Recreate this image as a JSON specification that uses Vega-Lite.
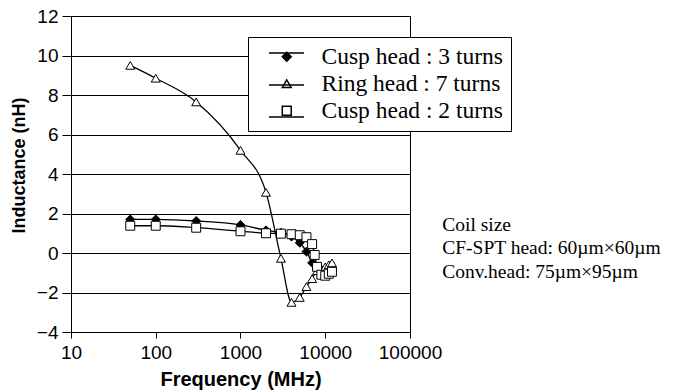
{
  "$schema": "https://vega.github.io/schema/vega-lite/v6.json",
  "autosize": {"type": "none"},
  "padding": {"left": 71, "top": 16, "right": 290, "bottom": 60},
  "width": 339,
  "height": 316,
  "background": "white",
  "config": {
    "view": {"stroke": "black", "strokeWidth": 1},
    "axis": {
      "labelFont": "Liberation Sans",
      "titleFont": "Liberation Sans",
      "labelColor": "black",
      "titleColor": "black",
      "domainColor": "black",
      "tickColor": "black",
      "gridColor": "black",
      "gridOpacity": 1
    },
    "legend": {
      "orient": "none", "legendX": 177, "legendY": 21,
      "padding": 8, "rowPadding": 2,
      "labelFont": "Liberation Serif", "labelFontSize": 23.5, "labelLimit": 400
    }
  },
  "data": {
    "values": [
      {"series": "Cusp head : 3 turns", "freq": 50, "ind": 1.7},
      {"series": "Cusp head : 3 turns", "freq": 100, "ind": 1.7},
      {"series": "Cusp head : 3 turns", "freq": 300, "ind": 1.62},
      {"series": "Cusp head : 3 turns", "freq": 1000, "ind": 1.42},
      {"series": "Cusp head : 3 turns", "freq": 2000, "ind": 1.15},
      {"series": "Cusp head : 3 turns", "freq": 3000, "ind": 1.03},
      {"series": "Cusp head : 3 turns", "freq": 4000, "ind": 0.83},
      {"series": "Cusp head : 3 turns", "freq": 5000, "ind": 0.52},
      {"series": "Cusp head : 3 turns", "freq": 6000, "ind": 0.07},
      {"series": "Cusp head : 3 turns", "freq": 7000, "ind": -0.5},
      {"series": "Cusp head : 3 turns", "freq": 8000, "ind": -0.85},
      {"series": "Cusp head : 3 turns", "freq": 9000, "ind": -1.0},
      {"series": "Cusp head : 3 turns", "freq": 10000, "ind": -0.95},
      {"series": "Cusp head : 3 turns", "freq": 11000, "ind": -0.85},
      {"series": "Cusp head : 3 turns", "freq": 12000, "ind": -0.75},
      {"series": "Ring head : 7 turns", "freq": 50, "ind": 9.5},
      {"series": "Ring head : 7 turns", "freq": 100, "ind": 8.85},
      {"series": "Ring head : 7 turns", "freq": 300, "ind": 7.65},
      {"series": "Ring head : 7 turns", "freq": 1000, "ind": 5.2},
      {"series": "Ring head : 7 turns", "freq": 2000, "ind": 3.07},
      {"series": "Ring head : 7 turns", "freq": 3000, "ind": -0.27},
      {"series": "Ring head : 7 turns", "freq": 4000, "ind": -2.5},
      {"series": "Ring head : 7 turns", "freq": 5000, "ind": -2.25},
      {"series": "Ring head : 7 turns", "freq": 6000, "ind": -1.7},
      {"series": "Ring head : 7 turns", "freq": 7000, "ind": -1.3},
      {"series": "Ring head : 7 turns", "freq": 8000, "ind": -0.9},
      {"series": "Ring head : 7 turns", "freq": 9000, "ind": -0.8},
      {"series": "Ring head : 7 turns", "freq": 10000, "ind": -0.7},
      {"series": "Ring head : 7 turns", "freq": 11000, "ind": -0.6},
      {"series": "Ring head : 7 turns", "freq": 12000, "ind": -0.5},
      {"series": "Cusp head : 2 turns", "freq": 50, "ind": 1.38},
      {"series": "Cusp head : 2 turns", "freq": 100, "ind": 1.38},
      {"series": "Cusp head : 2 turns", "freq": 300, "ind": 1.28},
      {"series": "Cusp head : 2 turns", "freq": 1000, "ind": 1.1},
      {"series": "Cusp head : 2 turns", "freq": 2000, "ind": 1.0},
      {"series": "Cusp head : 2 turns", "freq": 3000, "ind": 0.98},
      {"series": "Cusp head : 2 turns", "freq": 4000, "ind": 0.95},
      {"series": "Cusp head : 2 turns", "freq": 5000, "ind": 0.9},
      {"series": "Cusp head : 2 turns", "freq": 6000, "ind": 0.8},
      {"series": "Cusp head : 2 turns", "freq": 7000, "ind": 0.45},
      {"series": "Cusp head : 2 turns", "freq": 7500, "ind": -0.1},
      {"series": "Cusp head : 2 turns", "freq": 8000, "ind": -0.7},
      {"series": "Cusp head : 2 turns", "freq": 9000, "ind": -1.1},
      {"series": "Cusp head : 2 turns", "freq": 10000, "ind": -1.15},
      {"series": "Cusp head : 2 turns", "freq": 11000, "ind": -1.05},
      {"series": "Cusp head : 2 turns", "freq": 12000, "ind": -0.95}
    ]
  },
  "encoding": {
    "x": {
      "field": "freq", "type": "quantitative",
      "scale": {"type": "log", "domain": [10, 100000], "nice": false},
      "axis": {
        "values": [10, 100, 1000, 10000, 100000], "format": ".0f",
        "title": "Frequency (MHz)", "titleFontSize": 20, "titleFontWeight": "bold",
        "labelFontSize": 19, "tickSize": 6, "labelPadding": 5, "titlePadding": 7,
        "grid": false, "labelFlush": false
      }
    },
    "y": {
      "field": "ind", "type": "quantitative",
      "scale": {"domain": [-4, 12], "nice": false, "zero": false},
      "axis": {
        "values": [-4, -2, 0, 2, 4, 6, 8, 10, 12],
        "title": "Inductance (nH)", "titleFontSize": 18, "titleFontWeight": "bold",
        "labelFontSize": 19, "tickSize": 9, "labelPadding": 4, "titlePadding": 8,
        "titleY": 149,
        "grid": true, "gridWidth": 1
      }
    }
  },
  "layer": [
    {
      "mark": {"type": "line", "interpolate": "monotone", "strokeWidth": 1.3},
      "encoding": {
        "stroke": {
          "field": "series", "type": "nominal",
          "sort": ["Cusp head : 3 turns", "Ring head : 7 turns", "Cusp head : 2 turns"],
          "scale": {"range": ["black", "black", "black"]},
          "legend": {
            "title": null, "zindex": 1,
            "fillColor": "transparent", "strokeColor": "transparent",
            "symbolType": "M-1,-0.6H1", "symbolSize": 1225, "symbolStrokeWidth": 1.3,
            "symbolOffset": 12, "labelOffset": 0,
            "labelExpr": "''"
          }
        }
      }
    },
    {
      "mark": {"type": "point", "filled": false, "stroke": "black", "strokeWidth": 1, "opacity": 1, "size": 80},
      "encoding": {
        "shape": {
          "field": "series", "type": "nominal",
          "scale": {
            "domain": ["Cusp head : 3 turns", "Ring head : 7 turns", "Cusp head : 2 turns"],
            "range": ["diamond", "triangle-up", "square"]
          },
          "legend": {
            "title": null, "zindex": 0,
            "fillColor": "white", "strokeColor": "black",
            "symbolSize": 80, "symbolOffset": 19, "labelOffset": 23,
            "labelColor": "black"
          }
        },
        "fill": {
          "field": "series", "type": "nominal",
          "scale": {
            "domain": ["Cusp head : 3 turns", "Ring head : 7 turns", "Cusp head : 2 turns"],
            "range": ["black", "white", "white"]
          },
          "legend": {
            "title": null, "zindex": 0,
            "fillColor": "white", "strokeColor": "black",
            "symbolSize": 80, "symbolOffset": 19, "labelOffset": 23,
            "labelColor": "black"
          }
        }
      }
    },
    {
      "transform": [{"filter": "datum.freq === 50 && datum.series === 'Ring head : 7 turns'"}],
      "mark": {"type": "text", "font": "Liberation Serif", "fontSize": 19.5, "align": "left", "baseline": "alphabetic", "lineHeight": 23.5, "color": "black"},
      "encoding": {
        "x": {"datum": 240000},
        "y": {"datum": 1.13},
        "text": {"value": ["Coil size", "CF-SPT head: 60µm×60µm", "Conv.head: 75µm×95µm"]}
      }
    }
  ]
}
